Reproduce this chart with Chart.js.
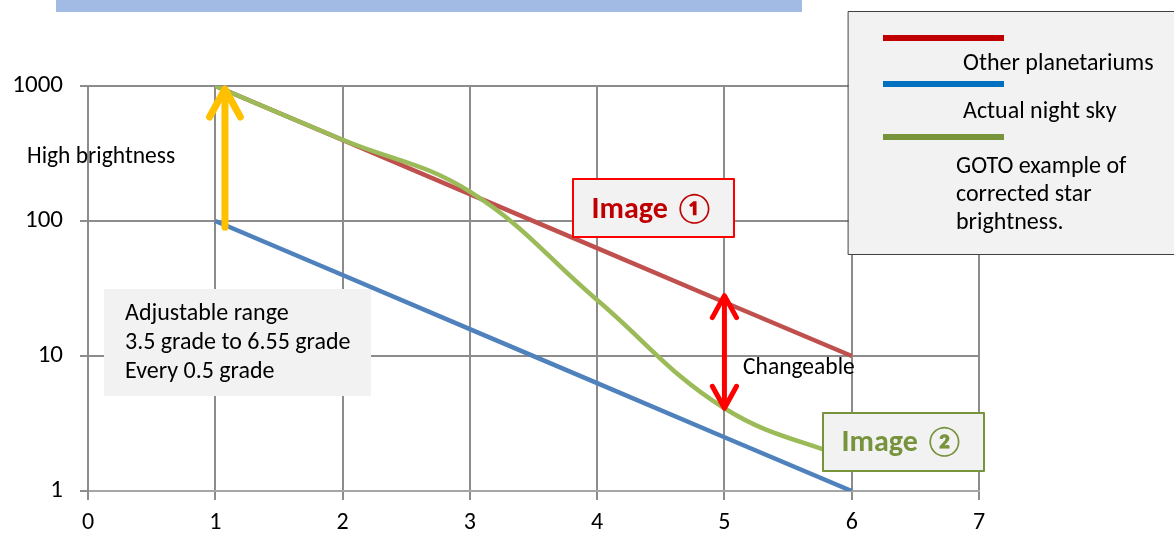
<!DOCTYPE html>
<html>
<head>
<meta charset="utf-8">
<script src="https://cdn.jsdelivr.net/npm/chart.js@4.4.1/dist/chart.umd.min.js"></script>
<style>
  html, body { margin: 0; padding: 0; background: #fff; }
  #wrap { width: 1174px; height: 534px; position: relative; }
</style>
</head>
<body>
<div id="wrap"><canvas id="chart" width="1174" height="534"></canvas></div>
<script>
// grade (x) values and brightness series (log scale)
const grades = [1, 2, 3, 4, 5, 6];
const otherPlanetariums = [1000, 398, 158, 63, 25, 10];
const actualNightSky = [100, 39.8, 15.8, 6.3, 2.5, 1];
const gotoCorrected = [1000, 400, 165, 26, 4.1, 1.7];
const yTicks = [1, 10, 100, 1000];
const xTicks = [0, 1, 2, 3, 4, 5, 6, 7];

const FONT = 'Carlito, Lato, sans-serif';

function toPoints(ys) {
    return grades.map((g, i) => ({ x: g, y: ys[i] }));
}

function arrowHead(ctx, x, y, dir, size) {
    ctx.beginPath();
    ctx.moveTo(x - size * 0.55, y + dir * size);
    ctx.lineTo(x, y);
    ctx.lineTo(x + size * 0.55, y + dir * size);
    ctx.stroke();
}

function box(ctx, x, y, w, h, fill, stroke, lw) {
    ctx.fillStyle = fill;
    ctx.fillRect(x, y, w, h);
    if (stroke) {
        ctx.strokeStyle = stroke;
        ctx.lineWidth = lw;
        ctx.strokeRect(x, y, w, h);
    }
}

// boxes and text that sit under the lines
const underlay = {
    id: 'underlay',
    beforeDatasetsDraw(chart) {
        const ctx = chart.ctx;
        ctx.save();
        box(ctx, 104, 289, 267, 107, '#f2f2f2');
        ctx.fillStyle = '#000';
        ctx.font = '24px ' + FONT;
        ctx.textBaseline = 'middle';
        ctx.fillText('Adjustable range', 125, 314);
        ctx.fillText('3.5 grade to 6.55 grade', 125, 343);
        ctx.fillText('Every 0.5 grade', 125, 372);
        ctx.restore();
    }
};

// arrows, labels and legend on top
const overlay = {
    id: 'overlay',
    afterDatasetsDraw(chart) {
        const ctx = chart.ctx;
        const xs = chart.scales.x, ys = chart.scales.y;
        ctx.save();

        // top banner
        ctx.fillStyle = '#a2bbe4';
        ctx.fillRect(56, 0, 746, 12);

        ctx.lineCap = 'round';
        ctx.lineJoin = 'round';

        // orange arrow
        const ox = xs.getPixelForValue(1.076);
        const oTop = ys.getPixelForValue(1000) + 3;
        const oBot = ys.getPixelForValue(90);
        ctx.strokeStyle = '#ffc000';
        ctx.lineWidth = 7;
        ctx.beginPath();
        ctx.moveTo(ox, oBot);
        ctx.lineTo(ox, oTop + 2);
        ctx.stroke();
        arrowHead(ctx, ox, oTop, 1, 28);

        // red double arrow
        const rx = xs.getPixelForValue(5);
        const rTop = ys.getPixelForValue(28);
        const rBot = ys.getPixelForValue(4.1);
        ctx.strokeStyle = '#ff0000';
        ctx.lineWidth = 5;
        ctx.beginPath();
        ctx.moveTo(rx, rTop + 2);
        ctx.lineTo(rx, rBot - 2);
        ctx.stroke();
        arrowHead(ctx, rx, rTop, 1, 22);
        arrowHead(ctx, rx, rBot, -1, 22);

        ctx.textBaseline = 'middle';
        ctx.fillStyle = '#000';
        ctx.font = '23.5px ' + FONT;
        ctx.fillText('High brightness', 27, 157);
        ctx.fillText('Changeable', 743, 368);

        // Image boxes
        box(ctx, 573, 179, 161, 58, '#f2f2f2', '#ff0000', 2);
        box(ctx, 823, 413, 161, 58, '#f2f2f2', '#77933c', 2);
        ctx.font = 'bold 30px ' + FONT;
        ctx.textAlign = 'center';
        ctx.fillStyle = '#c00000';
        ctx.fillText('Image \u2460', 653, 210);
        ctx.fillStyle = '#77933c';
        ctx.fillText('Image \u2461', 903, 443);
        ctx.textAlign = 'left';

        // legend
        box(ctx, 848.5, 11.5, 340, 243, '#f2f2f2', '#404040', 1);
        ctx.lineCap = 'butt';
        ctx.lineWidth = 6;
        const legend = [
            ['#c00000', 38], ['#0070c0', 84], ['#77933c', 137]
        ];
        legend.forEach(([c, y]) => {
            ctx.strokeStyle = c;
            ctx.beginPath();
            ctx.moveTo(883, y);
            ctx.lineTo(1004, y);
            ctx.stroke();
        });
        ctx.fillStyle = '#000';
        ctx.font = '24px ' + FONT;
        ctx.fillText('Other planetariums', 963, 64);
        ctx.fillText('Actual night sky', 963, 112);
        ctx.fillText('GOTO example of', 956, 167);
        ctx.fillText('corrected star', 956, 195);
        ctx.fillText('brightness.', 956, 223);

        ctx.restore();
    }
};

new Chart(document.getElementById('chart'), {
    type: 'line',
    data: {
        datasets: [
            {
                label: 'Other planetariums',
                data: toPoints(otherPlanetariums),
                borderColor: '#c0504d',
                borderWidth: 4.5,
                tension: 0,
                order: 2
            },
            {
                label: 'Actual night sky',
                data: toPoints(actualNightSky),
                borderColor: '#4f81bd',
                borderWidth: 4.5,
                tension: 0,
                order: 3
            },
            {
                label: 'GOTO example of corrected star brightness.',
                data: toPoints(gotoCorrected),
                borderColor: '#9bbb59',
                borderWidth: 4.5,
                tension: 0.4,
                order: 1
            }
        ]
    },
    options: {
        responsive: false,
        animation: false,
        events: [],
        layout: { padding: { top: 86, right: 195, left: 0, bottom: 0 } },
        elements: { point: { radius: 0 } },
        plugins: {
            legend: { display: false },
            tooltip: { enabled: false }
        },
        scales: {
            x: {
                type: 'linear',
                min: 0,
                max: 7,
                afterBuildTicks(scale) { scale.ticks = xTicks.map(v => ({ value: v })); },
                afterFit(scale) { scale.height = 43; },
                grid: { color: '#8c8c8c', lineWidth: 2, tickLength: 9 },
                border: { color: '#a6a6a6', width: 2 },
                ticks: { color: '#000', font: { family: FONT, size: 24 }, padding: 9, maxRotation: 0 }
            },
            y: {
                type: 'logarithmic',
                min: 1,
                max: 1000,
                afterBuildTicks(scale) { scale.ticks = yTicks.map(v => ({ value: v })); },
                afterFit(scale) { scale.width = 88; },
                grid: { color: '#8c8c8c', lineWidth: 2, tickLength: 8 },
                border: { color: '#8c8c8c', width: 2 },
                ticks: {
                    color: '#000',
                    font: { family: FONT, size: 25 },
                    padding: 17,
                    callback: v => String(v)
                }
            }
        }
    },
    plugins: [underlay, overlay]
});
</script>
</body>
</html>
